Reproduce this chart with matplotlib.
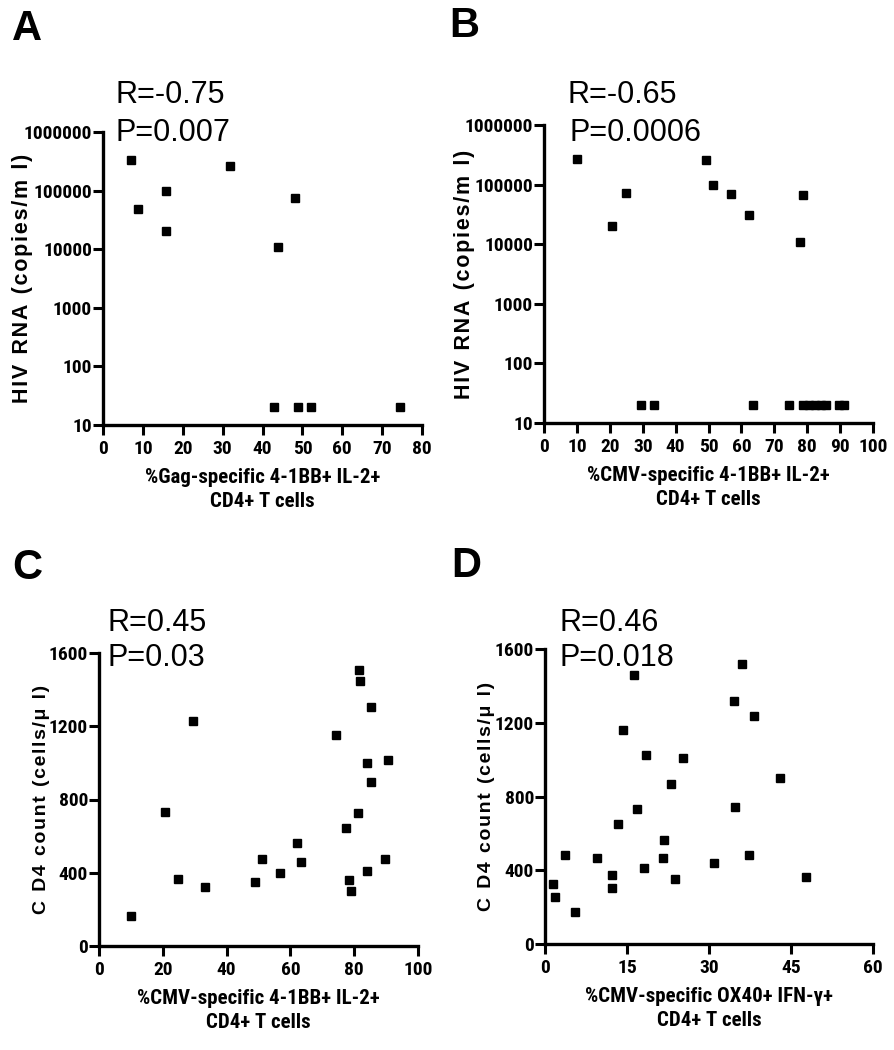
import matplotlib
matplotlib.use("Agg")
import matplotlib.pyplot as plt
from matplotlib import font_manager
from matplotlib.ticker import FixedLocator, FixedFormatter, NullLocator

# ---------------- data ----------------
a_x = [7.0, 8.9, 15.7, 15.9, 31.9, 48.1, 43.9, 42.9, 48.8, 52.1, 74.4]
a_y = [331000, 48000, 98000, 20500, 263000, 74000, 11000, 20, 20, 20, 20]

b_x = [9.9, 20.7, 25.0, 49.1, 51.3, 56.8, 62.3, 78.6, 77.7,
       29.5, 33.4, 63.4, 74.4, 78.8, 80.6, 82.4, 84.2, 85.8, 89.7, 91.1]
b_y = [270000, 20400, 72800, 262000, 97500, 69000, 30500, 67000, 11000,
       20, 20, 20, 20, 20, 20, 20, 20, 20, 20, 20]

c_x = [9.9, 20.8, 24.9, 29.5, 33.3, 49.0, 51.1, 56.6, 62.1, 63.2, 74.4, 77.4,
       78.3, 79.1, 81.1, 81.4, 81.8, 84.0, 83.9, 85.4, 85.4, 89.5, 90.7]
c_y = [165, 734, 367, 1227, 322, 349, 476, 398, 560, 460, 1154, 645,
       358, 300, 729, 1509, 1447, 1002, 407, 1305, 893, 476, 1014]

d_x = [1.4, 1.9, 3.7, 5.4, 9.6, 12.3, 12.2, 13.4, 14.2, 16.3, 16.9, 18.2, 18.5,
       21.6, 21.8, 23.0, 23.8, 25.2, 30.9, 34.5, 34.8, 36.1, 37.4, 38.2, 42.9, 47.7]
d_y = [327, 255, 483, 172, 466, 374, 302, 651, 1163, 1457, 734, 410, 1023,
       465, 566, 866, 354, 1011, 441, 1316, 741, 1519, 481, 1237, 902, 365]

panel_letters = ["A", "B", "C", "D"]
stat_r = ["R=-0.75", "R=-0.65", "R=0.45", "R=0.46"]
stat_p = ["P=0.007", "P=0.0006", "P=0.03", "P=0.018"]
xlabels = ["%Gag-specific 4-1BB+ IL-2+\nCD4+ T cells",
           "%CMV-specific 4-1BB+ IL-2+\nCD4+ T cells",
           "%CMV-specific 4-1BB+ IL-2+\nCD4+ T cells",
           "%CMV-specific OX40+ IFN-\u03b3+\nCD4+ T cells"]
ylabels = ["HIV RNA (copies/m l)", "HIV RNA (copies/m l)",
           "C D4 count (cells/\u03bc l)", "C D4 count (cells/\u03bc l)"]

log_ticks = [10, 100, 1000, 10000, 100000, 1000000]
log_ticklabels = ["10", "100", "1000", "10000", "100000", "1000000"]
cd4_ticks = [0, 400, 800, 1200, 1600]
a_xticks = [0, 10, 20, 30, 40, 50, 60, 70, 80]
b_xticks = [0, 10, 20, 30, 40, 50, 60, 70, 80, 90, 100]
c_xticks = [0, 20, 40, 60, 80, 100]
d_xticks = [0, 15, 30, 45, 60]

# ---------------- fonts ----------------
bold_names = {f.name for f in font_manager.fontManager.ttflist if f.weight >= 600}
all_names = {f.name for f in font_manager.fontManager.ttflist}
narrow = None
for cand in ["Liberation Sans Narrow", "Arial Narrow", "Archivo Narrow",
             "Roboto Condensed", "PT Sans Narrow", "Open Sans Condensed",
             "IBM Plex Sans Condensed", "Fira Sans Condensed",
             "Sofia Sans Condensed", "Encode Sans Condensed",
             "Saira SemiCondensed"]:
    if cand in bold_names:
        narrow = cand
        break
if narrow is None:
    narrow = "Liberation Sans"
regular = "Liberation Sans" if "Liberation Sans" in all_names else "DejaVu Sans"
narrow_fam = [narrow, "DejaVu Sans"]
reg_fam = [regular, "DejaVu Sans"]

W, H = 894, 1050
fig = plt.figure(figsize=(W / 100, H / 100), dpi=100)


def px_rect(l, t, r, b):
    return [l / W, 1 - b / H, (r - l) / W, (b - t) / H]


def spaced(s):
    words = s.split(" ")
    return "\u2009 ".join("\u200a".join(w) for w in words)


rects = [(103, 132, 422, 425), (544, 125, 873, 423),
         (99, 653, 418, 946), (545, 649, 873, 944)]
xs = [a_x, b_x, c_x, d_x]
ys = [a_y, b_y, c_y, d_y]
xticks = [a_xticks, b_xticks, c_xticks, d_xticks]
xlims = [(0, 80), (0, 100), (0, 100), (0, 60)]

ylabel_right = [33, 475, 50, 495]
ylabel_size = [15.5, 15.5, 14, 14]
letter_pos = [(12, 40), (449, 37), (12, 579), (451, 577)]
r_pos = [(116, 103), (568, 103), (107, 631), (560, 631)]
p_pos = [(116, 141), (569, 141), (107, 666), (560, 666)]

for i in range(4):
    l, t, r, b = rects[i]
    ax = fig.add_axes(px_rect(l, t, r, b))
    ax.plot(xs[i], ys[i], linestyle="none", marker="s", markersize=6.2,
            color="black", clip_on=False)
    ax.set_xlim(*xlims[i])
    ax.xaxis.set_major_locator(FixedLocator(xticks[i]))
    ax.set_xticklabels([str(v) for v in xticks[i]])
    if i < 2:
        ax.set_yscale("log")
        ax.set_ylim(10, 1000000)
        ax.yaxis.set_major_locator(FixedLocator(log_ticks))
        ax.yaxis.set_major_formatter(FixedFormatter(log_ticklabels))
        ax.yaxis.set_minor_locator(NullLocator())
    else:
        ax.set_ylim(0, 1600)
        ax.yaxis.set_major_locator(FixedLocator(cd4_ticks))
        ax.set_yticklabels([str(v) for v in cd4_ticks])
    for s in ["top", "right"]:
        ax.spines[s].set_visible(False)
    for s in ["left", "bottom"]:
        ax.spines[s].set_linewidth(2.4)
    ax.tick_params(axis="both", which="major", length=7, width=2.2, direction="out")
    ax.tick_params(axis="x", pad=4)
    ax.tick_params(axis="y", pad=1)
    for lab in ax.get_xticklabels() + ax.get_yticklabels():
        lab.set_family(narrow_fam)
        lab.set_fontweight("bold")
        lab.set_fontsize(14)
    ax.set_xlabel(xlabels[i], family=narrow_fam, fontweight="bold",
                  fontsize=15, labelpad=7, linespacing=1.35)
    ax.set_ylabel(spaced(ylabels[i]), family=reg_fam, fontweight="bold",
                  fontsize=ylabel_size[i])
    ax.yaxis.set_label_coords((ylabel_right[i] - l) / (r - l), 0.5)

    lx, ly = letter_pos[i]
    fig.text(lx / W, 1 - ly / H, panel_letters[i], family=reg_fam,
             fontweight="bold", fontsize=30, ha="left", va="baseline")
    rx, ry = r_pos[i]
    fig.text(rx / W, 1 - ry / H, stat_r[i], family=reg_fam, fontsize=22,
             ha="left", va="baseline")
    qx, qy = p_pos[i]
    fig.text(qx / W, 1 - qy / H, stat_p[i], family=reg_fam, fontsize=22,
             ha="left", va="baseline")

fig.savefig("out.png", dpi=100, facecolor="white")
